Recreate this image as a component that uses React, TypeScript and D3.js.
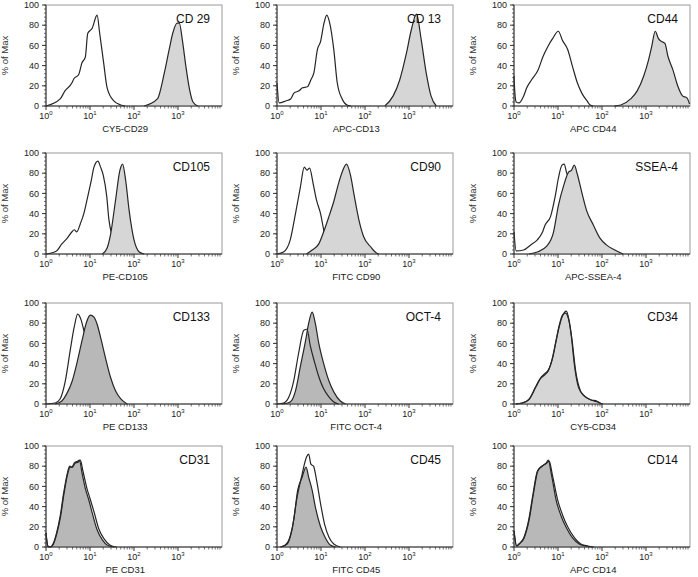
import * as d3 from 'd3';
import { useEffect, useRef } from "react";

type pt = [number, number]; // [fluorescence intensity, % of max]

const markers = ["CD 29", "CD 13", "CD44", "CD105", "CD90", "SSEA-4", "CD133", "OCT-4", "CD34", "CD31", "CD45", "CD14"];
const channels = ["CY5-CD29", "APC-CD13", "APC CD44", "PE-CD105", "FITC CD90", "APC-SSEA-4", "PE CD133", "FITC OCT-4", "CY5-CD34", "PE CD31", "FITC CD45", "APC CD14"];
const yTicks = [0, 20, 40, 60, 80, 100];
const xDecades = [1, 10, 100, 1000];

// isotype control (open) and stained (filled) histograms
const cd29Iso: pt[] = [[1, 0], [2.1, 7], [2.7, 15], [3.9, 23], [4.3, 27], [5.5, 31], [6.6, 43], [7.8, 48], [8.9, 72], [11.2, 77], [14.5, 90], [16.6, 72], [20.4, 43], [24.5, 18], [34.7, 5], [50, 1], [63, 0]];
const cd29Pos: pt[] = [[170, 0], [339, 7], [490, 33], [631, 56], [759, 72], [955, 82], [1072, 82], [1259, 65], [1514, 39], [1820, 17], [2188, 4], [2818, 0]];
const cd13Iso: pt[] = [[1, 23], [1.12, 3], [1.58, 5], [2.04, 7], [2.45, 13], [3.16, 15], [3.8, 18], [4.9, 19], [5.9, 26], [6.9, 33], [8.3, 56], [9.8, 64], [11.7, 82], [13.5, 90], [15.8, 82], [19.5, 56], [23.4, 23], [30.2, 7], [38.9, 1], [47.9, 0]];
const cd13Pos: pt[] = [[282, 0], [437, 10], [617, 26], [871, 52], [1122, 75], [1479, 91], [1905, 65], [2455, 33], [3162, 10], [4169, 0]];
const cd44Iso: pt[] = [[1, 30], [1.05, 12], [1.12, 4], [1.29, 3], [1.66, 10], [1.95, 18], [2.51, 26], [3.55, 36], [4.57, 49], [5.89, 59], [7.59, 67], [10.2, 74], [12.6, 65], [16.6, 56], [21.4, 39], [27.5, 23], [35.5, 12], [45.7, 5], [53.7, 1], [63, 0]];
const cd44Pos: pt[] = [[191, 0], [269, 1], [447, 7], [631, 15], [891, 30], [1148, 46], [1349, 59], [1622, 74], [1905, 67], [2239, 64], [2692, 62], [3162, 49], [4074, 36], [5248, 20], [6761, 10], [8511, 8], [9772, 2]];
const cd105Iso: pt[] = [[1, 0], [1.74, 3], [2.29, 10], [2.95, 15], [3.89, 22], [4.37, 24], [5.01, 22], [6.03, 30], [7.24, 40], [8.91, 57], [10.7, 73], [12.3, 86], [15.1, 92], [17.4, 86], [20, 78], [24, 57], [26.9, 34], [32.4, 17], [38, 7], [45.7, 2], [55, 0]];
const cd105Pos: pt[] = [[19.1, 0], [24.5, 6], [29.5, 20], [38, 53], [47.9, 83], [55, 89], [64.6, 73], [77.6, 43], [100, 14], [132, 2], [170, 0]];
const cd90Iso: pt[] = [[1, 0], [1.41, 2], [2.0, 14], [2.63, 40], [3.39, 66], [4.17, 86], [4.79, 83], [5.5, 85], [6.61, 70], [7.94, 53], [9.77, 40], [11.5, 24], [13.8, 10], [16.2, 2], [19.5, 0]];
const cd90Pos: pt[] = [[4.68, 0], [6.31, 4], [8.91, 10], [11.5, 22], [15.1, 37], [19.5, 52], [25.1, 70], [30.2, 81], [38, 89], [46.8, 78], [56.2, 59], [72.4, 34], [93.3, 17], [135, 7], [182, 1], [204, 0]];
const ssea4Iso: pt[] = [[1, 22], [1.12, 3], [1.66, 4], [2.4, 9], [3.39, 14], [4.37, 21], [5.13, 29], [6.76, 37], [8.71, 58], [10.2, 75], [12.3, 88], [13.8, 89], [15.8, 80], [18.2, 76], [25.1, 60], [39.8, 38], [63.1, 22], [100, 10], [158, 4], [251, 0]];
const ssea4Pos: pt[] = [[2.19, 0], [3.39, 2], [5.62, 8], [7.94, 22], [10.2, 48], [13.5, 68], [17.4, 81], [20.4, 83], [23.4, 88], [27.5, 79], [34.7, 61], [44.7, 43], [63.1, 29], [89.1, 16], [126, 9], [195, 4], [302, 0]];
const cd133Iso: pt[] = [[1, 0], [1.62, 1], [2.09, 5], [2.75, 23], [3.55, 53], [4.37, 76], [5.25, 89], [6.31, 83], [7.24, 73], [8.91, 60], [12.6, 45], [20, 25], [31.6, 10], [50.1, 2], [63.1, 0]];
const cd133Pos: pt[] = [[1.62, 0], [2.29, 3], [2.95, 10], [3.89, 22], [5.01, 40], [6.61, 63], [8.32, 81], [10.2, 88], [12.3, 86], [14.5, 79], [17.4, 66], [22.4, 46], [29.5, 26], [38, 13], [50.1, 5], [64.6, 1], [70.8, 0]];
const oct4Iso: pt[] = [[1, 0], [1.41, 1], [1.86, 7], [2.4, 23], [3.09, 50], [4.07, 73], [4.79, 74], [5.75, 57], [7.08, 42], [8.91, 27], [11.5, 15], [15.1, 7], [19.5, 2], [25.1, 0]];
const oct4Pos: pt[] = [[1.29, 0], [2.0, 2], [2.63, 13], [3.39, 37], [4.47, 63], [5.25, 80], [6.31, 91], [7.41, 80], [8.91, 60], [11.5, 40], [15.1, 23], [19.5, 12], [27.5, 3], [36.3, 0]];
const cd34Iso: pt[] = [[1.1, 0], [1.58, 1], [2.24, 5], [3.16, 17], [3.98, 25], [5.01, 29], [6.03, 33], [7.59, 47], [9.12, 64], [10.7, 78], [12.6, 88], [14.8, 90], [17.4, 84], [20, 68], [23.4, 40], [29.5, 16], [39.8, 8], [56.2, 4], [79.4, 2], [100, 0]];
const cd34Pos: pt[] = [[1.1, 0], [1.51, 1], [2.14, 4], [3.02, 16], [3.89, 25], [5.01, 30], [5.89, 33], [7.59, 46], [9.12, 63], [10.7, 77], [12.6, 87], [15.5, 92], [17.8, 83], [20.9, 63], [25.1, 33], [32.4, 13], [41.7, 7], [57.5, 4], [75.9, 3], [89.1, 1], [105, 0]];
const cd31Iso: pt[] = [[1, 14], [1.1, 1], [1.26, 0], [1.51, 4], [1.78, 14], [2.14, 30], [2.57, 53], [3.02, 70], [3.55, 79], [3.98, 79], [4.57, 83], [5.37, 84], [6.03, 86], [6.92, 75], [8.51, 58], [10, 48], [12.3, 35], [15.8, 18], [20.9, 8], [28.2, 2], [39.8, 0]];
const cd31Pos: pt[] = [[1, 14], [1.1, 1], [1.23, 0], [1.48, 4], [1.74, 14], [2.09, 30], [2.51, 53], [2.95, 70], [3.47, 80], [3.89, 79], [4.37, 83], [5.25, 85], [5.75, 86], [6.61, 73], [7.94, 57], [9.33, 47], [11.2, 34], [14.5, 17], [19.1, 7], [24.5, 2], [35.5, 0]];
const cd45Iso: pt[] = [[1.2, 0], [1.7, 3], [2.19, 17], [2.88, 50], [3.72, 72], [4.68, 89], [5.25, 92], [5.89, 82], [6.76, 80], [7.94, 66], [9.77, 43], [12, 23], [15.1, 10], [19.5, 3], [27.5, 0]];
const cd45Pos: pt[] = [[1.2, 0], [1.55, 2], [1.86, 7], [2.4, 27], [2.95, 56], [3.72, 69], [4.57, 79], [5.25, 69], [6.31, 56], [7.41, 40], [9.77, 20], [12.6, 9], [16.2, 2], [21.4, 0]];
const cd14Iso: pt[] = [[1, 16], [1.15, 1], [1.32, 3], [1.7, 9], [2.19, 26], [2.75, 52], [3.47, 75], [4.37, 80], [5.5, 83], [6.31, 85], [7.41, 72], [9.77, 47], [12.6, 32], [16.6, 20], [22.9, 10], [33.1, 3], [47.9, 1], [66.1, 0]];
const cd14Pos: pt[] = [[1, 16], [1.15, 1], [1.29, 3], [1.66, 9], [2.14, 26], [2.69, 52], [3.39, 75], [4.27, 80], [5.37, 83], [6.03, 86], [7.08, 72], [9.12, 46], [11.7, 31], [15.5, 19], [21.4, 9], [30.2, 3], [42.7, 1], [60.3, 0]];

const isotypes = [cd29Iso, cd13Iso, cd44Iso, cd105Iso, cd90Iso, ssea4Iso, cd133Iso, oct4Iso, cd34Iso, cd31Iso, cd45Iso, cd14Iso];
const stained = [cd29Pos, cd13Pos, cd44Pos, cd105Pos, cd90Pos, ssea4Pos, cd133Pos, oct4Pos, cd34Pos, cd31Pos, cd45Pos, cd14Pos];

// layout / style
const W = 698, H = 577;
const COL_X = [46, 277, 514];
const ROW_Y = [5, 153, 303, 446];
const PW = 176, PH = 101;
const LIGHT = '#d6d6d6', DARK = '#b8b8b8';
const fills = [LIGHT, LIGHT, LIGHT, LIGHT, LIGHT, LIGHT, DARK, DARK, LIGHT, DARK, DARK, DARK];
const isoOnTop = [false, false, false, false, false, false, false, true, true, true, true, true];
const FONT = '"Liberation Sans", Arial, sans-serif';

export default function App() {
    const ref = useRef(null);
    useEffect(() => {
        if (!ref.current) return;
        const svg = d3.select(ref.current);
        svg.selectAll("*").remove();

        markers.forEach((name, i) => {
            const left = COL_X[i % 3];
            const top = ROW_Y[Math.floor(i / 3)];
            const x = d3.scaleLog().domain([1, 10000]).range([0, PW]);
            const y = d3.scaleLinear().domain([0, 100]).range([PH, 0]);
            const g = svg.append('g').attr('transform', `translate(${left}, ${top})`);

            const line = d3.line<pt>().x(d => x(d[0])).y(d => y(d[1])).curve(d3.curveMonotoneX);
            const area = d3.area<pt>().x(d => x(d[0])).y0(y(0)).y1(d => y(d[1])).curve(d3.curveMonotoneX);

            // frame
            g.append('rect').attr('width', PW).attr('height', PH)
                .attr('fill', 'white').attr('stroke', '#9a9a9a').attr('stroke-width', 1);

            const drawIso = () => g.append('path').attr('d', line(isotypes[i]))
                .attr('fill', 'none').attr('stroke', '#262626').attr('stroke-width', 1.2);

            if (!isoOnTop[i]) drawIso();
            g.append('path').attr('d', area(stained[i])).attr('fill', fills[i]);
            g.append('path').attr('d', line(stained[i]))
                .attr('fill', 'none').attr('stroke', '#262626').attr('stroke-width', 1.2);
            if (isoOnTop[i]) drawIso();

            // axes lines
            g.append('line').attr('x1', 0).attr('x2', 0).attr('y1', 0).attr('y2', PH).attr('stroke', '#333');
            g.append('line').attr('x1', 0).attr('x2', PW).attr('y1', PH).attr('y2', PH).attr('stroke', '#333');

            // y ticks
            const yMinor = d3.range(0, 101, 4);
            g.selectAll('.ymin').data(yMinor).enter().append('line')
                .attr('x1', -2).attr('x2', 0).attr('y1', d => y(d)).attr('y2', d => y(d))
                .attr('stroke', '#333').attr('stroke-width', 0.7);
            g.selectAll('.ymaj').data(yTicks).enter().append('line')
                .attr('x1', -4).attr('x2', 0).attr('y1', d => y(d)).attr('y2', d => y(d))
                .attr('stroke', '#333');
            g.selectAll('.ylab').data(yTicks).enter().append('text')
                .attr('x', -7).attr('y', d => y(d)).attr('dy', '0.35em')
                .attr('text-anchor', 'end').style('font', `9px ${FONT}`).attr('fill', '#222')
                .text(d => d);

            // x ticks (log)
            const xMinor: number[] = [];
            xDecades.forEach(dec => d3.range(2, 10).forEach(m => xMinor.push(dec * m)));
            g.selectAll('.xmin').data(xMinor).enter().append('line')
                .attr('x1', d => x(d)).attr('x2', d => x(d)).attr('y1', PH).attr('y2', PH + 2.5)
                .attr('stroke', '#333').attr('stroke-width', 0.7);
            g.selectAll('.xmaj').data(xDecades).enter().append('line')
                .attr('x1', d => x(d)).attr('x2', d => x(d)).attr('y1', PH).attr('y2', PH + 4)
                .attr('stroke', '#333');
            const xl = g.selectAll('.xlab').data(xDecades).enter().append('text')
                .attr('x', d => x(d)).attr('y', PH + 13)
                .attr('text-anchor', 'middle').style('font', `9px ${FONT}`).attr('fill', '#222');
            xl.append('tspan').text('10');
            xl.append('tspan').attr('dy', -4).style('font-size', '6px').text(d => Math.round(Math.log10(d)));

            // labels
            g.append('text').attr('x', PW * 0.45).attr('y', PH + 26)
                .attr('text-anchor', 'middle').style('font', `9.5px ${FONT}`).attr('fill', '#222')
                .text(channels[i]);
            g.append('text')
                .attr('transform', `translate(-38, ${PH / 2}) rotate(-90)`)
                .attr('text-anchor', 'middle').style('font', `9.5px ${FONT}`).attr('fill', '#333')
                .text('% of Max');
            g.append('text').attr('x', PW - 12).attr('y', 18)
                .attr('text-anchor', 'end').style('font', `12px ${FONT}`).attr('fill', '#111')
                .text(name);
        });
    }, []);

    return (
        <svg ref={ref} width={W} height={H} style={{ position: 'absolute', left: 0, top: 0, background: 'white' }}></svg>
    );
}
